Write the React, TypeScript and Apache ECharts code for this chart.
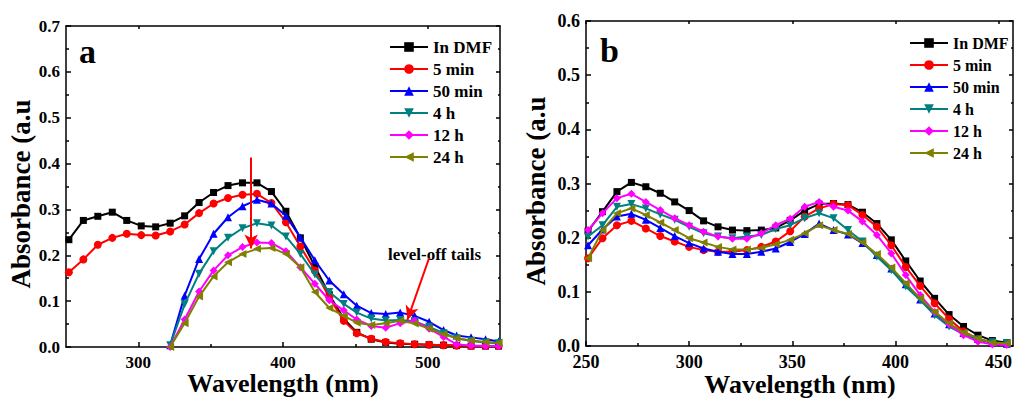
import React, { useEffect, useRef } from 'react';
import * as echarts from 'echarts';

const FONT = 'Liberation Serif, Times New Roman, serif';

const SERIES_NAMES = ['In DMF', '5 min', '50 min', '4 h', '12 h', '24 h'];
const COLORS = ['#000000', '#ff0000', '#0000ff', '#008080', '#ff00ff', '#808000'];
const SYMBOLS = ['rect', 'circle', 'triangle', 'path://M0,0L10,0L5,9Z', 'diamond', 'path://M10,0L10,10L0,5Z'];
const Y_TITLE = 'Absorbance (a.u';
const X_TITLE = 'Wavelength (nm)';

// Panel a
const A_X = [252, 262, 272, 282, 292, 302, 312, 322, 332, 342, 352, 362, 372, 382, 392, 402, 412, 422, 432, 442, 451, 461, 471, 481, 491, 501, 511, 520, 530, 540, 549];
const A_DMF = [0.234, 0.276, 0.285, 0.294, 0.276, 0.264, 0.262, 0.270, 0.286, 0.315, 0.337, 0.352, 0.358, 0.358, 0.339, 0.296, 0.238, 0.176, 0.114, 0.062, 0.032, 0.017, 0.010, 0.007, 0.006, 0.005, 0.004, 0.003, 0.002, 0.002, 0.002];
const A_5MIN = [0.163, 0.191, 0.223, 0.238, 0.247, 0.244, 0.243, 0.252, 0.267, 0.292, 0.313, 0.325, 0.332, 0.334, 0.314, 0.272, 0.219, 0.167, 0.108, 0.057, 0.030, 0.018, 0.011, 0.008, 0.006, 0.005, 0.004, 0.003, 0.002, 0.002, 0.002];
const A_50MIN = [null, null, null, null, null, null, null, 0.004, 0.112, 0.192, 0.247, 0.283, 0.307, 0.321, 0.313, 0.286, 0.239, 0.189, 0.145, 0.115, 0.090, 0.074, 0.072, 0.075, 0.068, 0.055, 0.037, 0.025, 0.021, 0.017, 0.012];
const A_4H = [null, null, null, null, null, null, null, 0.004, 0.093, 0.160, 0.209, 0.238, 0.259, 0.270, 0.265, 0.241, 0.203, 0.158, 0.120, 0.094, 0.075, 0.062, 0.058, 0.059, 0.056, 0.044, 0.030, 0.019, 0.013, 0.010, 0.008];
const A_12H = [null, null, null, null, null, null, null, 0.0, 0.060, 0.121, 0.167, 0.200, 0.218, 0.228, 0.227, 0.209, 0.174, 0.138, 0.102, 0.080, 0.060, 0.046, 0.042, 0.052, 0.057, 0.040, 0.022, 0.006, 0.003, 0.002, 0.002];
const A_24H = [null, null, null, null, null, null, null, 0.0, 0.052, 0.110, 0.154, 0.185, 0.203, 0.214, 0.216, 0.203, 0.174, 0.120, 0.085, 0.068, 0.053, 0.048, 0.052, 0.057, 0.051, 0.040, 0.028, 0.019, 0.014, 0.011, 0.009];

// Panel b
const B_X = [251, 258, 265, 272, 279, 286, 293, 300, 307, 314, 321, 328, 335, 342, 349, 356, 363, 370, 377, 384, 391, 398, 405, 412, 419, 426, 433, 440, 447, 454];
const B_DMF = [0.212, 0.248, 0.285, 0.302, 0.294, 0.282, 0.266, 0.250, 0.231, 0.220, 0.214, 0.213, 0.214, 0.218, 0.232, 0.250, 0.262, 0.263, 0.261, 0.247, 0.226, 0.196, 0.157, 0.120, 0.088, 0.058, 0.036, 0.020, 0.010, 0.006];
const B_5MIN = [0.162, 0.199, 0.223, 0.231, 0.217, 0.203, 0.193, 0.183, 0.177, 0.174, 0.174, 0.177, 0.183, 0.193, 0.212, 0.239, 0.254, 0.262, 0.260, 0.242, 0.220, 0.186, 0.146, 0.111, 0.079, 0.050, 0.027, 0.013, 0.006, 0.004];
const B_50MIN = [0.186, 0.215, 0.239, 0.244, 0.233, 0.218, 0.203, 0.190, 0.180, 0.174, 0.170, 0.170, 0.174, 0.180, 0.192, 0.207, 0.226, 0.214, 0.206, 0.190, 0.168, 0.143, 0.114, 0.086, 0.060, 0.040, 0.024, 0.013, 0.006, 0.004];
const B_4H = [0.202, 0.223, 0.257, 0.262, 0.254, 0.243, 0.233, 0.220, 0.208, 0.202, 0.199, 0.202, 0.205, 0.216, 0.223, 0.236, 0.245, 0.236, 0.214, 0.193, 0.165, 0.140, 0.110, 0.085, 0.057, 0.036, 0.022, 0.012, 0.007, 0.005];
const B_12H = [0.214, 0.245, 0.273, 0.281, 0.266, 0.251, 0.236, 0.223, 0.211, 0.202, 0.198, 0.198, 0.208, 0.223, 0.235, 0.257, 0.266, 0.257, 0.250, 0.230, 0.205, 0.171, 0.131, 0.094, 0.063, 0.040, 0.020, 0.008, 0.003, 0.002];
const B_24H = [0.162, 0.214, 0.245, 0.254, 0.242, 0.228, 0.214, 0.199, 0.191, 0.183, 0.178, 0.178, 0.181, 0.188, 0.196, 0.208, 0.223, 0.214, 0.207, 0.191, 0.170, 0.145, 0.116, 0.088, 0.063, 0.042, 0.025, 0.014, 0.006, 0.005];

// Axis ticks
const A_X_MAJOR = [300, 400, 500];
const A_X_MINOR = [350, 450];
const B_X_MAJOR = [250, 300, 350, 400, 450];
const B_X_MINOR = [275, 325, 375, 425];

// Annotation arrows (data coordinates)
const ARROW_DOWN = [[378, 0.413], [378, 0.215]];
const ARROW_TAILS = [[501, 0.194], [486, 0.059]];

const A_SERIES = [A_DMF, A_5MIN, A_50MIN, A_4H, A_12H, A_24H];
const B_SERIES = [B_DMF, B_5MIN, B_50MIN, B_4H, B_12H, B_24H];

const labelStyle = (size: number) => ({
  fontFamily: FONT,
  fontWeight: 'bold' as const,
  fontSize: size,
  color: '#000',
});

function makeSeries(xs: number[], ys: (number | null)[], i: number, xIdx: number, yIdx: number) {
  const data = xs.map((x, k) => [x, ys[k]]).filter((d) => d[1] !== null);
  return {
    type: 'line',
    name: SERIES_NAMES[i],
    xAxisIndex: xIdx,
    yAxisIndex: yIdx,
    data,
    symbol: SYMBOLS[i],
    symbolSize: i === 0 ? 7 : 8,
    showAllSymbol: true,
    lineStyle: { width: 2, color: COLORS[i] },
    itemStyle: { color: COLORS[i] },
    emphasis: { disabled: true },
    z: 2 + i,
  };
}

function bottomAxis(grid: number, min: number, max: number, major: number[], size: number) {
  return {
    type: 'value',
    gridIndex: grid,
    position: 'bottom',
    min,
    max,
    axisLine: { lineStyle: { color: '#000', width: 1.5 } },
    axisTick: { inside: true, length: 5, customValues: major, lineStyle: { color: '#000', width: 1.5 } },
    axisLabel: { customValues: major, margin: 7, ...labelStyle(size) },
    splitLine: { show: false },
  };
}

function minorAxis(grid: number, min: number, max: number, minor: number[]) {
  return {
    type: 'value',
    gridIndex: grid,
    position: 'bottom',
    min,
    max,
    axisLine: { show: false },
    axisTick: { inside: true, length: 3, customValues: minor, lineStyle: { color: '#000', width: 1.5 } },
    axisLabel: { show: false },
    splitLine: { show: false },
  };
}

function topAxis(grid: number, min: number, max: number, major: number[]) {
  return {
    type: 'value',
    gridIndex: grid,
    position: 'top',
    min,
    max,
    axisLine: { lineStyle: { color: '#000', width: 1.5 } },
    axisTick: { inside: true, length: 3, customValues: major, lineStyle: { color: '#000', width: 1.5 } },
    axisLabel: { show: false },
    splitLine: { show: false },
  };
}

function leftAxis(grid: number, max: number, size: number) {
  return {
    type: 'value',
    gridIndex: grid,
    position: 'left',
    min: 0,
    max,
    interval: 0.1,
    axisLine: { show: true, lineStyle: { color: '#000', width: 1.5 } },
    axisTick: { show: true, inside: true, length: 5, lineStyle: { color: '#000', width: 1.5 } },
    minorTick: { show: true, splitNumber: 2, length: 3, lineStyle: { color: '#000', width: 1.5 } },
    axisLabel: { margin: 6, formatter: (v: number) => v.toFixed(1), ...labelStyle(size) },
    splitLine: { show: false },
  };
}

function rightAxis(grid: number, max: number) {
  return {
    type: 'value',
    gridIndex: grid,
    position: 'right',
    min: 0,
    max,
    interval: 0.1,
    axisLine: { show: true, lineStyle: { color: '#000', width: 1.5 } },
    axisTick: { show: true, inside: true, length: 4, lineStyle: { color: '#000', width: 1.5 } },
    minorTick: { show: true, splitNumber: 2, length: 2, lineStyle: { color: '#000', width: 1.5 } },
    axisLabel: { show: false },
    splitLine: { show: false },
  };
}

function legendFor(left: number, top: number, size: number) {
  return {
    data: SERIES_NAMES,
    orient: 'vertical',
    left,
    top,
    padding: 0,
    itemWidth: 38,
    itemHeight: 12,
    itemGap: 4,
    selectedMode: false,
    textStyle: { ...labelStyle(size), lineHeight: 18 },
  };
}

function yTitle(x: number, y: number) {
  return {
    type: 'text',
    x,
    y,
    rotation: Math.PI / 2,
    style: { text: Y_TITLE, fontFamily: FONT, fontWeight: 'bold', fontSize: 27, fill: '#000', align: 'center', verticalAlign: 'middle' },
  };
}

function xTitle(x: number, y: number) {
  return {
    type: 'text',
    x,
    y,
    style: { text: X_TITLE, fontFamily: FONT, fontWeight: 'bold', fontSize: 26, fill: '#000', align: 'center', verticalAlign: 'middle' },
  };
}

export default function App() {
  const ref = useRef<HTMLDivElement>(null);

  useEffect(() => {
    document.body.style.margin = '0';
    if (!ref.current) return;
    const chart = echarts.init(ref.current, undefined, { renderer: 'svg' });

    const series: any[] = [];
    A_SERIES.forEach((ys, i) => series.push(makeSeries(A_X, ys, i, 0, 0)));
    B_SERIES.forEach((ys, i) => series.push(makeSeries(B_X, ys, i, 3, 2)));

    series[0].markLine = {
      silent: true,
      symbol: ['none', 'arrow'],
      symbolSize: [10, 14],
      label: { show: false },
      lineStyle: { color: '#ff0000', width: 2, type: 'solid' },
      itemStyle: { color: '#ff0000' },
      emphasis: { disabled: true },
      data: [
        [{ coord: ARROW_DOWN[0] }, { coord: ARROW_DOWN[1] }],
        [{ coord: ARROW_TAILS[0] }, { coord: ARROW_TAILS[1] }],
      ],
      z: 20,
    };

    const option: any = {
      animation: false,
      backgroundColor: '#ffffff',
      textStyle: { fontFamily: FONT },
      grid: [
        { left: 66, top: 26, width: 434, height: 321, containLabel: false, outerBoundsMode: 'none' },
        { left: 586, top: 21, width: 427, height: 325, containLabel: false, outerBoundsMode: 'none' },
      ],
      xAxis: [
        bottomAxis(0, 250, 550, A_X_MAJOR, 17),
        minorAxis(0, 250, 550, A_X_MINOR),
        topAxis(0, 250, 550, A_X_MAJOR),
        bottomAxis(1, 250, 457, B_X_MAJOR, 18),
        minorAxis(1, 250, 457, B_X_MINOR),
        topAxis(1, 250, 457, B_X_MAJOR),
      ],
      yAxis: [leftAxis(0, 0.7, 17), rightAxis(0, 0.7), leftAxis(1, 0.6, 18), rightAxis(1, 0.6)],
      legend: [legendFor(389, 38, 17), legendFor(909, 34, 16)],
      graphic: [
        yTitle(21, 194),
        yTitle(535.5, 191),
        xTitle(283, 383),
        xTitle(800, 384),
        { type: 'text', x: 79, y: 51.5, style: { text: 'a', fontFamily: FONT, fontWeight: 'bold', fontSize: 34, fill: '#000', verticalAlign: 'middle' } },
        { type: 'text', x: 600, y: 50.5, style: { text: 'b', fontFamily: FONT, fontWeight: 'bold', fontSize: 34, fill: '#000', verticalAlign: 'middle' } },
        { type: 'text', x: 388, y: 254, style: { text: 'level-off tails', fontFamily: FONT, fontWeight: 'bold', fontSize: 17, fill: '#000', verticalAlign: 'middle' } },
      ],
      series,
    };
    chart.setOption(option);
    return () => chart.dispose();
  }, []);

  return <div ref={ref} style={{ width: 1014, height: 400 }} />;
}
